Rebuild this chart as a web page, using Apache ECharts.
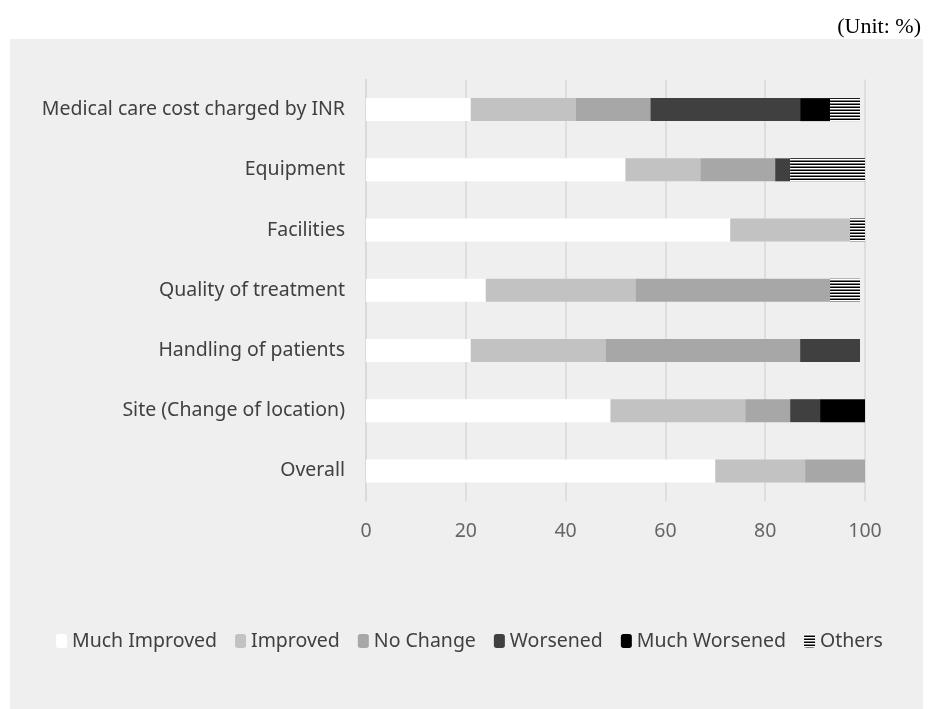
<!DOCTYPE html>
<html>
<head>
<meta charset="utf-8">
<script src="https://cdn.jsdelivr.net/npm/echarts@6/dist/echarts.min.js"></script>
<style>
html,body{margin:0;padding:0;background:#fff;}
#chart{width:928px;height:709px;}
</style>
</head>
<body>
<div id="chart"></div>
<script>
const categories = [
  "Medical care cost charged by INR",
  "Equipment",
  "Facilities",
  "Quality of treatment",
  "Handling of patients",
  "Site (Change of location)",
  "Overall"
];
const seriesNames = ["Much Improved", "Improved", "No Change", "Worsened", "Much Worsened", "Others"];
const muchImproved = [21, 52, 73, 24, 21, 49, 70];
const improved     = [21, 15, 24, 30, 27, 27, 18];
const noChange     = [15, 15, 0, 39, 39, 9, 12];
const worsened     = [30, 3, 0, 0, 12, 6, 0];
const muchWorsened = [6, 0, 0, 0, 0, 9, 0];
const others       = [6, 15, 3, 6, 0, 0, 0];
const xTicks = [0, 20, 40, 60, 80, 100];

function stripePattern() {
  const c = document.createElement('canvas');
  c.width = 4; c.height = 3;
  const ctx = c.getContext('2d');
  ctx.fillStyle = '#ffffff';
  ctx.fillRect(0, 0, 4, 3);
  ctx.fillStyle = '#000000';
  ctx.fillRect(0, 1.5, 4, 1.5);
  return { image: c, repeat: 'repeat' };
}

const values = [muchImproved, improved, noChange, worsened, muchWorsened, others];
const colors = ['#ffffff', '#c2c2c2', '#a7a7a7', '#404040', '#000000', stripePattern()];

const font = '"Noto Sans", sans-serif';
const chart = echarts.init(document.getElementById('chart'), null, { renderer: 'canvas' });
chart.setOption({
  backgroundColor: '#ffffff',
  animation: false,
  graphic: [{
    type: 'rect', z: -10, silent: true,
    shape: { x: 10, y: 39, width: 913, height: 670 },
    style: { fill: '#efefef' }
  }],
  title: {
    text: '(Unit: %)', right: 2, top: 11,
    textStyle: { fontFamily: '"Liberation Serif", serif', fontSize: 22, fontWeight: 'normal', color: '#000' }
  },
  grid: { left: 366, right: 63, top: 79.5, bottom: 208, containLabel: false },
  legend: {
    data: seriesNames,
    left: 51, top: 626,
    itemWidth: 11, itemHeight: 14, itemGap: 18,
    textStyle: { fontFamily: font, fontSize: 19.5, color: '#404040' }
  },
  xAxis: {
    type: 'value', min: xTicks[0], max: xTicks[xTicks.length - 1], interval: 20,
    axisLine: { show: false }, axisTick: { show: false },
    splitLine: { lineStyle: { color: '#d9d9d9', width: 1.5 } },
    axisLabel: { fontFamily: font, fontSize: 19.5, color: '#666666', margin: 20 }
  },
  yAxis: {
    type: 'category', data: categories, inverse: true,
    axisLine: { show: true, lineStyle: { color: '#d9d9d9', width: 1.5 } },
    axisTick: { show: false },
    axisLabel: { fontFamily: font, fontSize: 19.5, color: '#404040', margin: 21 }
  },
  series: seriesNames.map((name, i) => ({
    name, type: 'bar', stack: 'total', barWidth: 23,
    data: values[i],
    itemStyle: { color: colors[i] }
  }))
});
</script>
</body>
</html>
